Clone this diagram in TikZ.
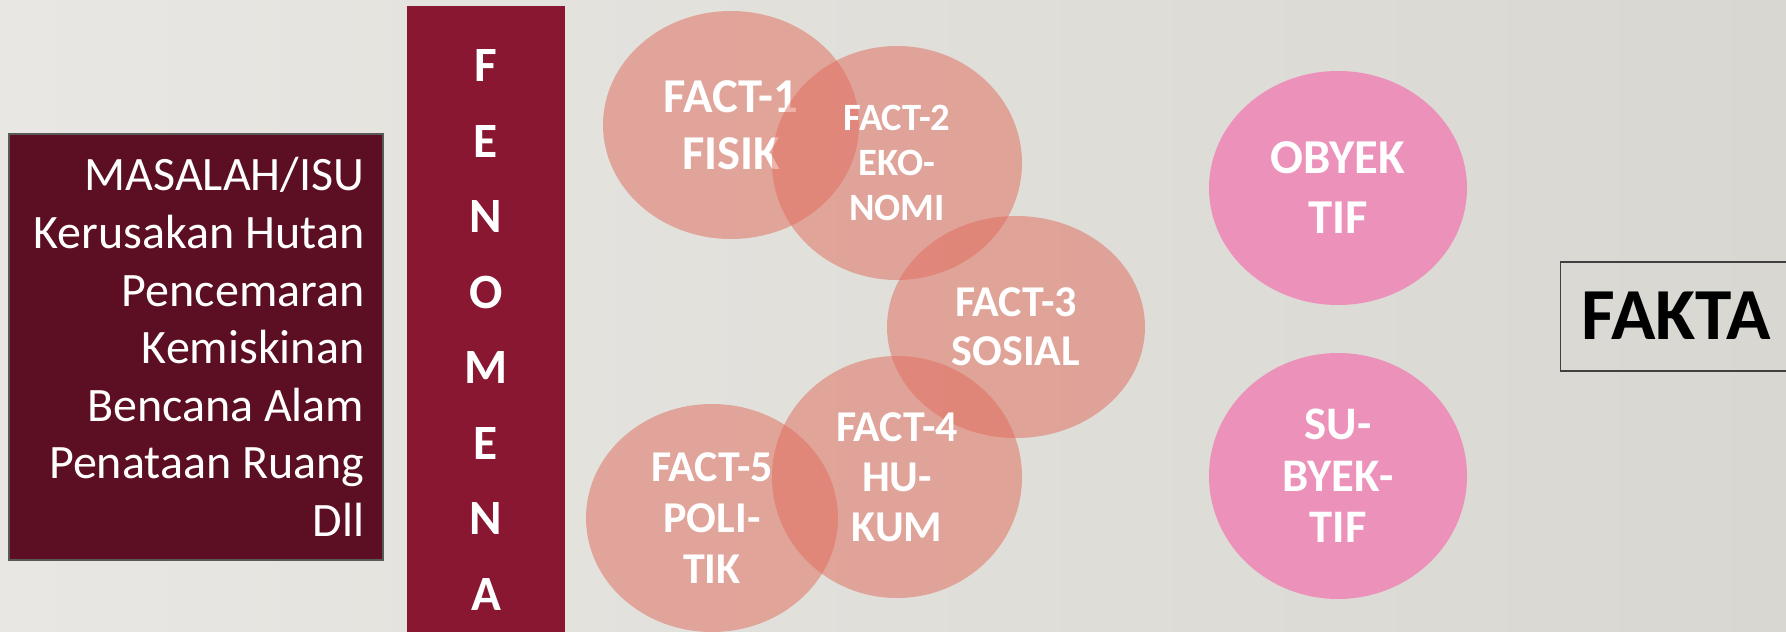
\documentclass[tikz,border=0pt]{standalone}
\usepackage{fontspec}
\setmainfont{Carlito}
\usetikzlibrary{shapes.geometric}
\definecolor{bgl}{HTML}{E8E7E3}
\definecolor{bgr}{HTML}{D9D7D1}
\definecolor{maroon}{HTML}{5C0F22}
\definecolor{crimson}{HTML}{8A1732}
\definecolor{salmon}{HTML}{E06D5E}
\definecolor{pinkc}{HTML}{EC91BA}
\tikzset{
  factnode/.style={ellipse, fill=salmon, fill opacity=0.52, text opacity=1, text=white, inner sep=0pt, align=center, font=\bfseries},
  pinknode/.style={ellipse, fill=pinkc, text=white, inner sep=0pt, align=center, font=\bfseries},
}
\begin{document}
\begin{tikzpicture}[x=0.75pt,y=-0.75pt]
\useasboundingbox (0,0) rectangle (1786,632);
\shade[left color=bgl, right color=bgr] (0,0) rectangle (1786,632);
% left box
\node[draw=black!65, line width=1.2pt, fill=maroon, minimum width=280.5pt, minimum height=319.5pt, inner sep=0pt] (isu) at (196,347) {};
\node[text=white, align=right, anchor=east, font=\fontsize{36}{43.2}\selectfont] (isutext) at (369,347)
  {MASALAH/ISU\\Kerusakan Hutan\\Pencemaran\\Kemiskinan\\Bencana Alam\\Penataan Ruang\\Dll};
% fenomena bar
\node[fill=crimson, minimum width=118.5pt, minimum height=469.5pt, inner sep=0pt] (bar) at (486,319) {};
\node[text=white, align=center, font=\bfseries\fontsize{37}{56.6}\selectfont] (fen) at (486,330)
  {F\\E\\N\\O\\M\\E\\N\\A};
% fact ellipses
\node[factnode, minimum width=192pt, minimum height=171pt, font=\bfseries\fontsize{36.5}{43}\selectfont] (f1) at (731,125) {FACT-1\\FISIK};
\node[factnode, minimum width=187.5pt, minimum height=175.5pt, font=\bfseries\fontsize{29}{34}\selectfont] (f2) at (897,163) {FACT-2\\EKO-\\NOMI};
\node[factnode, minimum width=193.5pt, minimum height=166.5pt, font=\bfseries\fontsize{33}{37}\selectfont] (f3) at (1016,327) {FACT-3\\SOSIAL};
\node[factnode, minimum width=187.5pt, minimum height=181.5pt, font=\bfseries\fontsize{33}{37.5}\selectfont] (f4) at (897,477) {FACT-4\\HU-\\KUM};
\node[factnode, minimum width=189pt, minimum height=171pt, font=\bfseries\fontsize{33}{38}\selectfont] (f5) at (712,518) {FACT-5\\POLI-\\TIK};
% pink ellipses
\node[pinknode, minimum width=193.5pt, minimum height=175.5pt, font=\bfseries\fontsize{36.5}{45}\selectfont] (obj) at (1338,188) {OBYEK\\TIF};
\node[pinknode, minimum width=193.5pt, minimum height=184.5pt, font=\bfseries\fontsize{35}{38.5}\selectfont] (subj) at (1338,476) {SU-\\BYEK-\\TIF};
% fakta
\node[draw=black!75, line width=1.1pt, minimum width=172.5pt, minimum height=81.75pt, inner sep=0pt, anchor=west] (fakta) at (1560,316.5) {};
\node[font=\bfseries\fontsize{55}{60}\selectfont, anchor=west] (faktatext) at (1577,316) {FAKTA};
\end{tikzpicture}
\end{document}
